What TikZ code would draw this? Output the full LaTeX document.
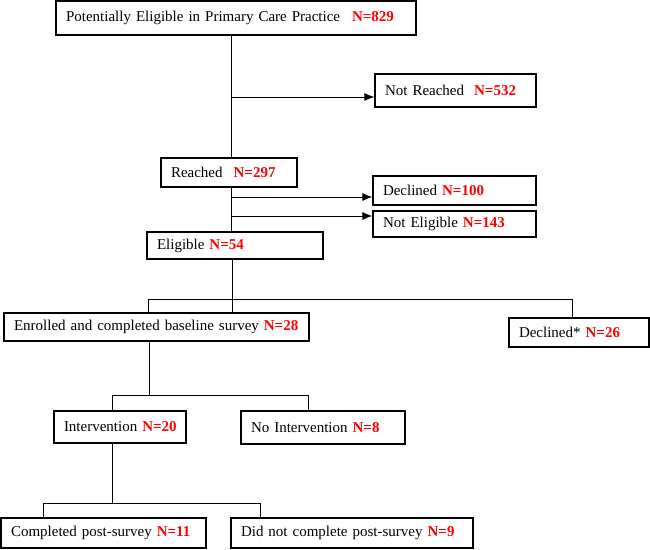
\documentclass[tikz,border=0pt]{standalone}
\usepackage{fontspec}
\setmainfont{Liberation Serif}
\usetikzlibrary{arrows.meta}
\definecolor{nred}{RGB}{255,0,0}
\newcommand{\NN}[1]{\textcolor{nred}{\textbf{#1}}}
\tikzset{
  box/.style={draw=black, line width=1.1pt, rectangle, inner xsep=10pt, inner ysep=0pt,
    align=left, font=\fontsize{15}{18}\selectfont},
  link/.style={draw=black, line width=1pt},
  arr/.style={link, -{Latex[length=10pt,width=8pt]}}
}
% place a box from (x1,y1) to (x2,y2) in pixel coordinates
\newcommand{\pbox}[6]{%
  \pgfmathsetmacro{\cx}{(#2+#4)/2}\pgfmathsetmacro{\cy}{(#3+#5)/2}%
  \pgfmathsetmacro{\bw}{#4-#2}\pgfmathsetmacro{\bh}{#5-#3}\pgfmathsetmacro{\tw}{#4-#2-20}%
  \node[box, minimum width=\bw pt, minimum height=\bh pt, text width=\tw pt] (#1) at (\cx,\cy) {\mbox{#6}};}
\begin{document}
\begin{tikzpicture}[x=1pt,y=-1pt]
\useasboundingbox (0,0) rectangle (650,549);
\pbox{top}{56}{1}{416}{35}{Potentially Eligible in Primary Care Practice\hspace{7pt} \NN{N=829}}
\pbox{nr}{375}{74}{536}{107}{Not Reached\hspace{5pt} \NN{N=532}}
\pbox{reached}{161}{158}{297}{187}{Reached\hspace{6pt} \NN{N=297}}
\pbox{declined}{373}{176}{536}{205}{Declined \NN{N=100}}
\pbox{noteligible}{373}{211}{536}{237}{Not Eligible \NN{N=143}}
\pbox{eligible}{147}{232}{323}{259}{Eligible \NN{N=54}}
\pbox{enrolled}{4}{313}{309}{341}{Enrolled and completed baseline survey \NN{N=28}}
\pbox{declinedb}{509}{318}{649}{347}{Declined* \NN{N=26}}
\pbox{intervention}{54}{411}{186}{443}{Intervention \NN{N=20}}
\pbox{nointervention}{241}{411}{405}{444}{No Intervention \NN{N=8}}
\pbox{completed}{1}{518}{206}{548}{Completed post-survey \NN{N=11}}
\pbox{didnot}{231}{518}{473}{548}{Did not complete post-survey \NN{N=9}}
% spine
\coordinate (spine) at (231,0);
\coordinate (b1) at (231,97);
\coordinate (b2) at (231,197);
\coordinate (b3) at (231,216);
\draw[link] (top.south -| spine) -- (reached.north -| spine);
\draw[link] (reached.south -| spine) -- (eligible.north -| spine);
\draw[arr] (b1) -- (b1 -| nr.west);
\draw[arr] (b2) -- (b2 -| declined.west);
\draw[arr] (b3) -- (b3 -| noteligible.west);
% split to enrolled / declined*
\coordinate (s1) at (232,299);
\coordinate (s1l) at (148,299);
\coordinate (s1r) at (572,299);
\draw[link] (eligible.south -| s1) -- (enrolled.north -| s1);
\draw[link] (enrolled.north -| s1l) -- (s1l) -- (s1r) -- (declinedb.north -| s1r);
% split to intervention / no intervention
\coordinate (s2) at (149,395);
\coordinate (s2l) at (112,395);
\coordinate (s2r) at (308,395);
\draw[link] (enrolled.south -| s2) -- (s2);
\draw[link] (intervention.north -| s2l) -- (s2l) -- (s2r) -- (nointervention.north -| s2r);
% split to completed / did not
\coordinate (s3) at (112,503);
\coordinate (s3l) at (43,503);
\coordinate (s3r) at (260,503);
\draw[link] (intervention.south -| s3) -- (s3);
\draw[link] (completed.north -| s3l) -- (s3l) -- (s3r) -- (didnot.north -| s3r);
\end{tikzpicture}
\end{document}
